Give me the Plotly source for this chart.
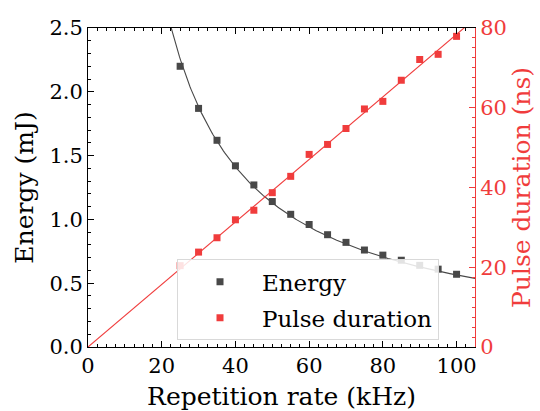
import numpy as np
import plotly.graph_objects as go

# Measured data
rep_rate_khz = [25, 30, 35, 40, 45, 50, 55, 60, 65, 70, 75, 80, 85, 90, 95, 100]
energy_mj = [2.20, 1.87, 1.62, 1.42, 1.27, 1.14, 1.04, 0.96, 0.88, 0.82,
             0.76, 0.72, 0.68, 0.64, 0.61, 0.57]
pulse_ns = [20.4, 23.8, 27.4, 31.9, 34.3, 38.7, 42.8, 48.3, 50.8, 54.8,
            59.7, 61.6, 66.9, 72.1, 73.4, 77.9]

GREY = "#484848"
RED = "#f03c3c"
FONT = "DejaVu Serif"

x = np.array(rep_rate_khz, dtype=float)
e = np.array(energy_mj)
p = np.array(pulse_ns)

# Fits: E = a / f (constant average power), tau = b * f (through origin)
a = np.sum(e / x) / np.sum(1.0 / x**2)
b = np.sum(x * p) / np.sum(x**2)
xf_e = np.linspace(20, 105, 300)
xf_p = np.linspace(0, 105, 50)

fig = go.Figure()

fig.add_trace(go.Scatter(x=xf_e, y=a / xf_e, mode="lines",
                         line=dict(color=GREY, width=1.1),
                         showlegend=False, hoverinfo="skip"))
fig.add_trace(go.Scatter(x=xf_p, y=b * xf_p, mode="lines", yaxis="y2",
                         line=dict(color=RED, width=1.1),
                         showlegend=False, hoverinfo="skip"))
fig.add_trace(go.Scatter(x=rep_rate_khz, y=energy_mj, mode="markers",
                         name="Energy", legendgroup="e",
                         marker=dict(symbol="square", size=7, color=GREY)))
fig.add_trace(go.Scatter(x=rep_rate_khz, y=pulse_ns, mode="markers",
                         yaxis="y2", name="Pulse duration", legendgroup="p",
                         marker=dict(symbol="square", size=7, color=RED)))

fig.update_layout(
    width=540, height=411,
    margin=dict(l=88, r=65, t=28, b=64),
    paper_bgcolor="white", plot_bgcolor="white",
    font=dict(family=FONT, size=21, color="black"),
    xaxis=dict(
        range=[0, 105], dtick=20, tick0=0, automargin=False,
        showline=True, linecolor="black", linewidth=1, mirror="ticks",
        ticks="inside", ticklen=6, tickcolor="black",
        minor=dict(dtick=2.5, ticks="inside", ticklen=3, tickcolor="black"),
        showgrid=False, zeroline=False,
        title=dict(text="Repetition rate (kHz)", standoff=20),
    ),
    yaxis=dict(
        range=[0, 2.5], dtick=0.5, tick0=0, tickformat=".1f", automargin=False,
        showline=True, linecolor="black", linewidth=1,
        ticks="inside", ticklen=6, tickcolor="black",
        minor=dict(dtick=0.1, ticks="inside", ticklen=3, tickcolor="black"),
        showgrid=False, zeroline=False,
        title=dict(text="Energy (mJ)", standoff=8),
    ),
    yaxis2=dict(
        overlaying="y", side="right", automargin=False,
        range=[0, 80], dtick=20, tick0=0,
        showline=True, linecolor=RED, linewidth=1,
        ticks="inside", ticklen=6, tickcolor=RED,
        minor=dict(dtick=2.5, ticks="inside", ticklen=3, tickcolor=RED),
        tickfont=dict(color=RED),
        showgrid=False, zeroline=False,
        title=dict(text="Pulse duration (ns)", font=dict(color=RED), standoff=6),
    ),
    legend=dict(
        x=0.23, y=0.275, xanchor="left", yanchor="top",
        bgcolor="rgba(255,255,255,0.85)", bordercolor="#d9d9d9", borderwidth=1,
        itemwidth=74, tracegroupgap=3, traceorder="grouped",
        font=dict(family=FONT, size=23),
    ),
)

fig.write_html("out.html")
